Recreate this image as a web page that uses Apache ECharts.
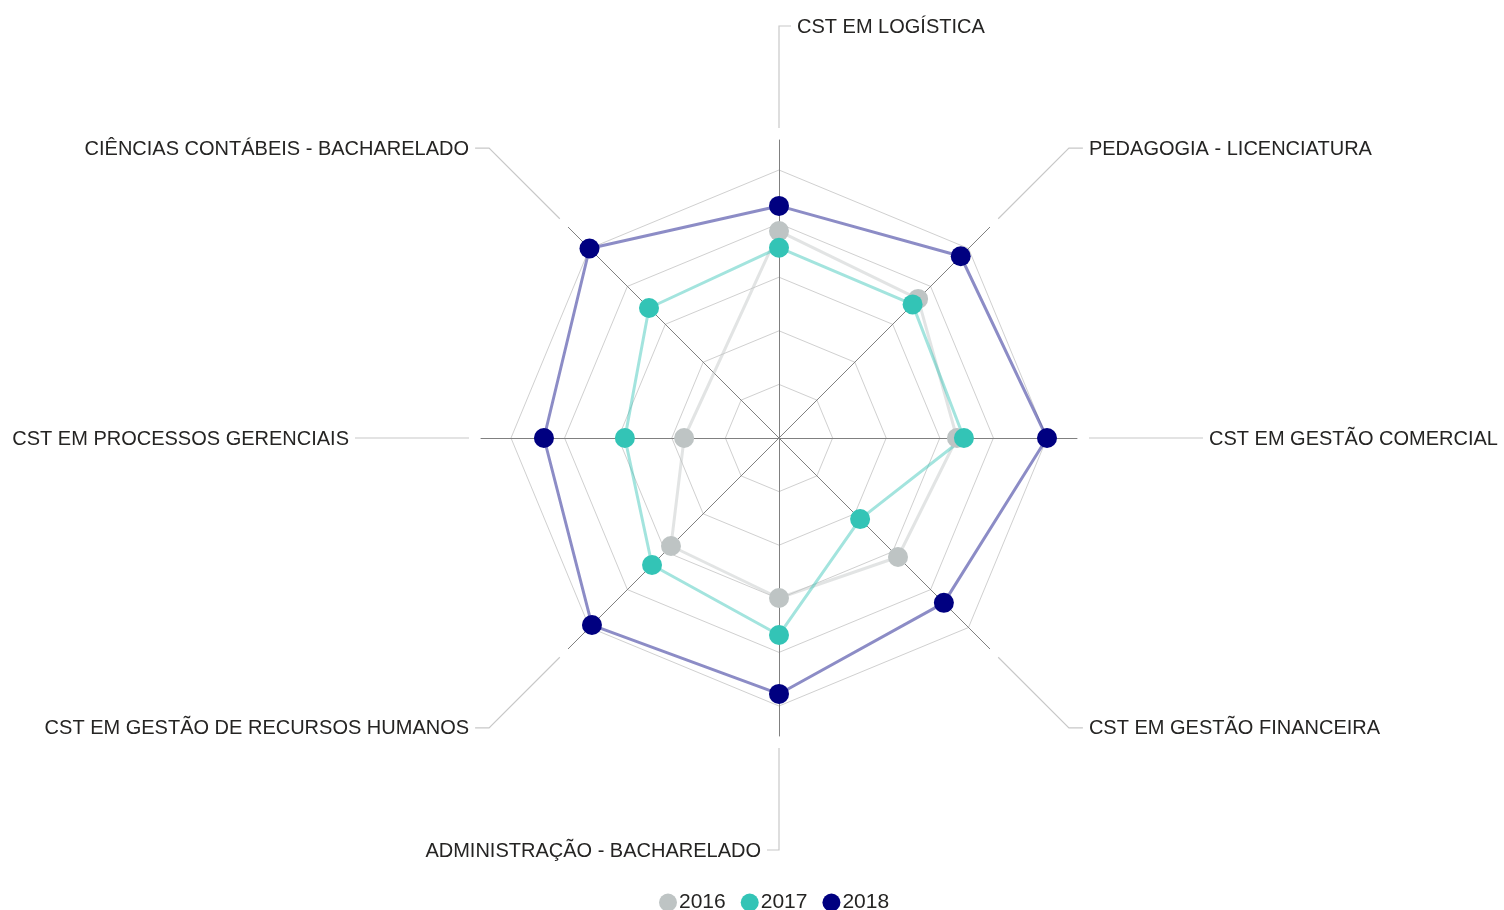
<!DOCTYPE html>
<html>
<head>
<meta charset="utf-8">
<script src="https://cdn.jsdelivr.net/npm/echarts@6/dist/echarts.min.js"></script>
<style>
  html, body { margin: 0; padding: 0; background: #fff; }
  #chart { width: 1504px; height: 910px; }
</style>
</head>
<body>
<div id="chart"></div>
<script>
// cursos, no sentido horário a partir do topo
const categories = [
  'CST EM LOGÍSTICA',
  'PEDAGOGIA - LICENCIATURA',
  'CST EM GESTÃO COMERCIAL',
  'CST EM GESTÃO FINANCEIRA',
  'ADMINISTRAÇÃO - BACHARELADO',
  'CST EM GESTÃO DE RECURSOS HUMANOS',
  'CST EM PROCESSOS GERENCIAIS',
  'CIÊNCIAS CONTÁBEIS - BACHARELADO'
]
const years = ['2016', '2017', '2018']
const values2016 = [77.2, 73.4, 66.4, 62.8, 59.7, 57.0, 35.4, null] // sem dado p/ Ciências Contábeis
const values2017 = [71.0, 70.5, 69.0, 42.8, 73.5, 67.0, 57.5, 68.6]
const values2018 = [86.6, 95.9, 100, 87.0, 95.5, 98.7, 87.7, 100]

const dotColors = ['#bec4c4', '#33c4b6', '#000080']

const CX = 779, CY = 438
const R_GRID = 268   // polígono externo
const R_AXIS = 298   // eixos escuros
const FONT = '20px "Liberation Sans", Arial, sans-serif'

const chart = echarts.init(document.getElementById('chart'))

// linha polar fechada: repete o primeiro ponto no fim
function toPolar(vals) {
  const pts = vals.map((v, i) => [v, i])
  pts.push({ value: [vals[0], vals.length], symbol: 'none' })
  return pts
}

function makeSeries(name, vals, idx) {
  return {
    name,
    type: 'line',
    coordinateSystem: 'polar',
    clip: false,
    data: toPolar(vals),
    connectNulls: true,
    symbol: 'circle',
    symbolSize: 20,
    itemStyle: { color: dotColors[idx] },
    lineStyle: { color: dotColors[idx], width: 3, opacity: 0.45 },
    emphasis: { disabled: true }
  }
}

// linhas-guia e rótulos
const graphics = []
categories.forEach((name, i) => {
  const a = i * Math.PI / 4
  const dx = Math.sin(a), dy = -Math.cos(a)
  const p0 = [CX + dx * 310, CY + dy * 310]
  let pts, tx, align
  if (Math.abs(dy) < 0.01) {
    const end = [CX + dx * 424, CY]
    pts = [p0, end]
    tx = end[0] + (dx > 0 ? 6 : -6)
    align = dx > 0 ? 'left' : 'right'
  } else {
    const side = Math.abs(dx) < 0.01 ? (dy < 0 ? 1 : -1) : Math.sign(dx)
    const r = Math.abs(dx) < 0.01 ? 412 : 410
    const end = [CX + dx * r, CY + dy * r]
    const elbow = Math.abs(dx) < 0.01 ? 12 : 14
    const e2 = [end[0] + side * elbow, end[1]]
    pts = [p0, end, e2]
    tx = e2[0] + side * 6
    align = side > 0 ? 'left' : 'right'
  }
  const ty = pts[pts.length - 1][1]
  graphics.push({
    type: 'polyline',
    shape: { points: pts },
    style: { stroke: '#c8c8c8', lineWidth: 1.2, fill: null },
    silent: true
  })
  graphics.push({
    type: 'text',
    x: tx,
    y: ty + 1,
    style: {
      text: name,
      font: FONT,
      fill: '#252423',
      textAlign: align,
      align: align,
      textVerticalAlign: 'middle',
      verticalAlign: 'middle'
    },
    silent: true
  })
})

const indicator = categories.map(n => ({ name: n, max: 100 }))

chart.setOption({
  animation: false,
  backgroundColor: '#fff',
  legend: {
    data: years,
    left: 654,
    top: 887,
    icon: 'circle',
    itemWidth: 18,
    itemHeight: 18,
    itemGap: 15,
    textStyle: { fontSize: 21, color: '#252423', fontFamily: '"Liberation Sans", Arial, sans-serif', padding: [0, 0, 0, -3] }
  },
  radar: [
    {
      center: [CX, CY],
      radius: R_AXIS,
      indicator,
      shape: 'polygon',
      splitNumber: 1,
      axisName: { show: false },
      axisLine: { lineStyle: { color: '#808080', width: 1 } },
      splitLine: { show: false },
      splitArea: { show: false }
    },
    {
      center: [CX, CY],
      radius: R_GRID,
      indicator,
      shape: 'polygon',
      splitNumber: 5,
      axisName: { show: false },
      axisLine: { show: false },
      splitLine: { lineStyle: { color: '#d0d0d0', width: 1 } },
      splitArea: { show: false }
    }
  ],
  polar: { center: [CX, CY], radius: R_GRID },
  angleAxis: {
    type: 'value',
    min: 0,
    max: categories.length,
    startAngle: 90,
    clockwise: true,
    axisLine: { show: false },
    axisTick: { show: false },
    axisLabel: { show: false },
    splitLine: { show: false }
  },
  radiusAxis: {
    type: 'value',
    min: 0,
    max: 100,
    axisLine: { show: false },
    axisTick: { show: false },
    axisLabel: { show: false },
    splitLine: { show: false }
  },
  series: [
    makeSeries(years[0], values2016, 0),
    makeSeries(years[1], values2017, 1),
    makeSeries(years[2], values2018, 2)
  ],
  graphic: graphics
})
</script>
</body>
</html>
